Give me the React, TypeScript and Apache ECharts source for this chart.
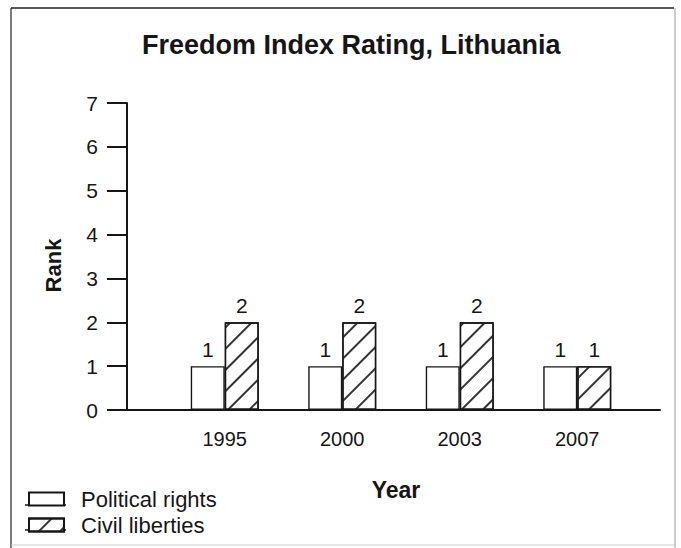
import React, { useEffect, useRef } from "react";
import * as echarts from "echarts";

const years = ["1995", "2000", "2003", "2007"];
const politicalRights = [1, 1, 1, 1];
const civilLiberties = [2, 2, 2, 1];
const seriesNames = ["Political rights", "Civil liberties"];
const chartTitle = "Freedom Index Rating, Lithuania";
const yAxisTitle = "Rank";
const xAxisTitle = "Year";
const rankMin = 0;
const rankMax = 7;
const rankStep = 1;

const FONT = '"Liberation Sans", Arial, sans-serif';
const INK = "#161616";

export default function App() {
  const ref = useRef<HTMLDivElement>(null);
  useEffect(() => {
    document.body.style.margin = "0";
    const chart = echarts.init(ref.current!, null, { renderer: "svg" });
    const hatch = {
      symbol: "rect",
      symbolSize: 1,
      color: "#333",
      backgroundColor: "#fff",
      dashArrayX: [1, 0],
      dashArrayY: [1.2, 13],
      rotation: -Math.PI / 4,
    };
    chart.setOption({
      animation: false,
      backgroundColor: "#fff",
      textStyle: { fontFamily: FONT, color: INK },
      title: {
        text: chartTitle,
        left: 142,
        top: 31,
        padding: 0,
        textStyle: { fontFamily: FONT, fontWeight: "bold", fontSize: 27, color: INK },
      },
      legend: {
        orient: "vertical",
        left: 23,
        top: 483,
        itemWidth: 35,
        itemHeight: 13,
        itemGap: 4,
        icon: "rect",
        data: seriesNames,
        textStyle: { fontFamily: FONT, fontSize: 22, color: INK, padding: [0, 0, 0, 12] },
      },
      graphic: [
        { type: "line", shape: { x1: 11, y1: 8, x2: 674, y2: 8 }, style: { stroke: "#222", lineWidth: 1.5 } },
        { type: "line", shape: { x1: 11, y1: 8, x2: 11, y2: 548 }, style: { stroke: "#222", lineWidth: 1.2 } },
        { type: "line", shape: { x1: 675, y1: 8, x2: 675, y2: 548 }, style: { stroke: "#999", lineWidth: 1 } },
        { type: "line", shape: { x1: 11, y1: 545, x2: 675, y2: 545 }, style: { stroke: "#ccc", lineWidth: 1 } },
        { type: "line", shape: { x1: 25, y1: 505, x2: 66, y2: 505 }, style: { stroke: INK, lineWidth: 1.4 } },
        { type: "line", shape: { x1: 25, y1: 530, x2: 66, y2: 530 }, style: { stroke: INK, lineWidth: 1.4 } },
      ],
      grid: [
        { left: 127, right: 21, top: 103, bottom: 138 },
        { left: 166, width: 470, top: 103, bottom: 138 },
      ],
      xAxis: [
        {
          type: "value",
          gridIndex: 0,
          min: 0,
          max: 1,
          axisLine: { show: true, lineStyle: { color: INK, width: 2 } },
          axisTick: { show: false },
          axisLabel: { show: false },
          splitLine: { show: false },
          name: xAxisTitle,
          nameLocation: "middle",
          nameGap: 68,
          nameTextStyle: { fontFamily: FONT, fontWeight: "bold", fontSize: 23, color: INK, padding: [0, 0, 0, 5] },
        },
        {
          type: "category",
          gridIndex: 1,
          data: years,
          axisLine: { show: false },
          axisTick: { show: false },
          axisLabel: { fontFamily: FONT, fontSize: 20, color: INK, margin: 19 },
        },
      ],
      yAxis: [
        {
          type: "value",
          gridIndex: 0,
          min: rankMin,
          max: rankMax,
          interval: rankStep,
          axisLine: { show: true, lineStyle: { color: INK, width: 2 } },
          axisTick: { show: true, length: 20, lineStyle: { color: INK, width: 2 } },
          axisLabel: { fontFamily: FONT, fontSize: 21, color: INK, margin: 29 },
          splitLine: { show: false },
          name: yAxisTitle,
          nameLocation: "middle",
          nameRotate: 90,
          nameGap: 63,
          nameTextStyle: { fontFamily: FONT, fontWeight: "bold", fontSize: 22, color: INK, padding: [0, 18, 0, 0] },
        },
        {
          type: "value",
          gridIndex: 1,
          min: rankMin,
          max: rankMax,
          interval: rankStep,
          show: false,
        },
      ],
      series: [
        {
          name: seriesNames[0],
          type: "bar",
          xAxisIndex: 1,
          yAxisIndex: 1,
          data: politicalRights,
          barWidth: 34,
          barGap: "0%",
          itemStyle: { color: "#fff", borderColor: INK, borderWidth: 1.4 },
          label: { show: true, position: "top", distance: 6, fontFamily: FONT, fontSize: 21, color: INK },
        },
        {
          name: seriesNames[1],
          type: "bar",
          xAxisIndex: 1,
          yAxisIndex: 1,
          data: civilLiberties,
          barWidth: 34,
          barGap: "0%",
          itemStyle: { color: "#fff", borderColor: INK, borderWidth: 1.4, decal: hatch },
          label: { show: true, position: "top", distance: 6, fontFamily: FONT, fontSize: 21, color: INK },
        },
      ],
    });
    return () => chart.dispose();
  }, []);
  return <div ref={ref} style={{ width: 681, height: 548, position: "fixed", left: 0, top: 0 }} />;
}
